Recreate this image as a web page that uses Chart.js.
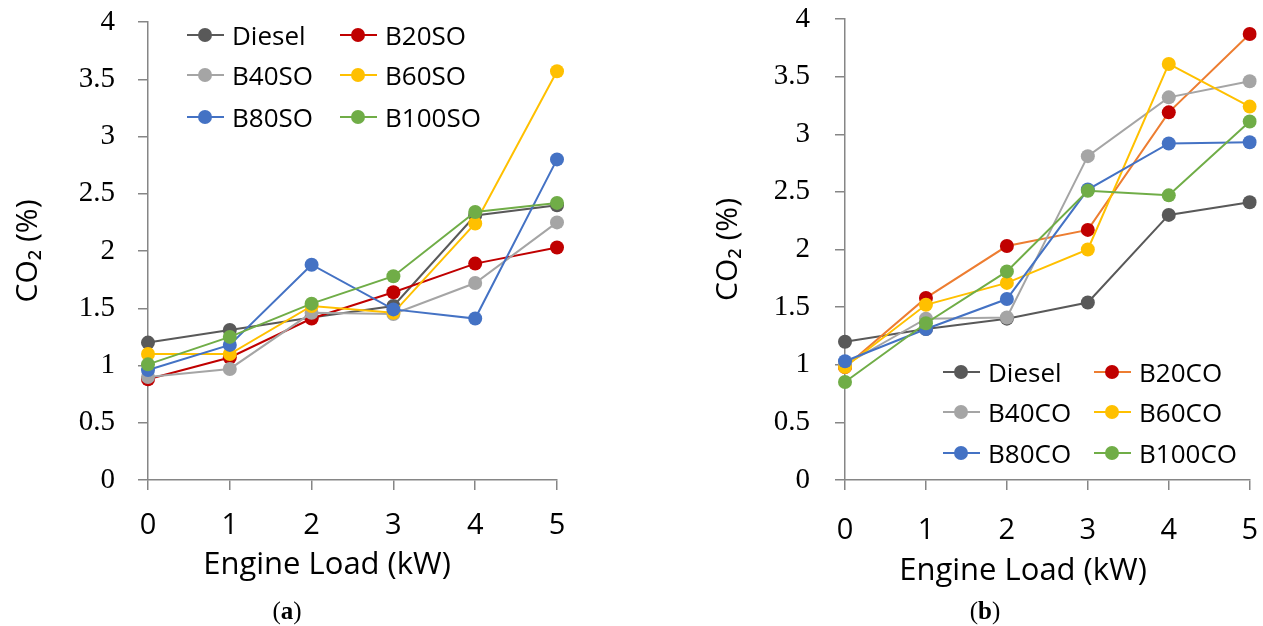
<!DOCTYPE html>
<html>
<head>
<meta charset="utf-8">
<script src="https://cdn.jsdelivr.net/npm/chart.js@4.4.1/dist/chart.umd.min.js"></script>
<style>
  body { margin: 0; background: #fff; width: 1263px; height: 626px; overflow: hidden; position: relative; font-family: 'Open Sans', sans-serif; }
  canvas { position: absolute; top: 0; }
  .xtitle { position: absolute; transform: translate(-50%, -50%); white-space: nowrap; font-size: 31px; line-height: 1; color: #000; }
  .cap { position: absolute; transform: translate(-50%, -50%); font-family: 'Liberation Serif', serif; font-size: 25px; line-height: 1; color: #000; }
  .cap b { font-weight: bold; }
  .leg { position: absolute; display: flex; align-items: center; height: 30px; font-size: 26px; color: #000; white-space: nowrap; }
  .sym { position: relative; display: inline-block; width: 37px; height: 14px; margin-right: 8px; }
  .sym i { position: absolute; left: 0; right: 0; top: 6px; height: 2px; }
  .sym b { position: absolute; left: 11px; top: 0; width: 14px; height: 14px; border-radius: 50%; }
</style>
</head>
<body>
<canvas id="chartA" width="620" height="626" style="left:0"></canvas>
<canvas id="chartB" width="584" height="626" style="left:697px"></canvas>
<div class="xtitle" style="left:327px; top:562px">Engine Load (kW)</div>
<div class="xtitle" style="left:1023px; top:568px">Engine Load (kW)</div>
<div class="cap" style="left:287px; top:610px">(<b>a</b>)</div>
<div class="cap" style="left:985px; top:610px">(<b>b</b>)</div>
<div id="legendA"></div>
<div id="legendB"></div>
<script>
// engine load (kW) on the x axis
const LOADS = ['0', '1', '2', '3', '4', '5'];
const Y_TICKS = [0, 0.5, 1, 1.5, 2, 2.5, 3, 3.5, 4];

// (a) soybean oil blends, CO2 %
const NAMES_A = ['Diesel', 'B20SO', 'B40SO', 'B60SO', 'B80SO', 'B100SO'];
const dieselA = [1.2, 1.31, 1.42, 1.52, 2.31, 2.4];
const b20so = [0.88, 1.07, 1.41, 1.64, 1.89, 2.03];
const b40so = [0.9, 0.97, 1.46, 1.45, 1.72, 2.25];
const b60so = [1.1, 1.1, 1.52, 1.46, 2.24, 3.57];
const b80so = [0.96, 1.18, 1.88, 1.49, 1.41, 2.8];
const b100so = [1.01, 1.25, 1.54, 1.78, 2.34, 2.42];

// (b) coconut oil blends, CO2 %
const NAMES_B = ['Diesel', 'B20CO', 'B40CO', 'B60CO', 'B80CO', 'B100CO'];
const dieselB = [1.2, 1.31, 1.4, 1.54, 2.3, 2.41];
const b20co = [0.98, 1.58, 2.03, 2.17, 3.19, 3.87];
const b40co = [1.0, 1.4, 1.41, 2.81, 3.32, 3.46];
const b60co = [0.98, 1.52, 1.71, 2.0, 3.61, 3.24];
const b80co = [1.03, 1.31, 1.57, 2.52, 2.92, 2.93];
const b100co = [0.85, 1.36, 1.81, 2.51, 2.47, 3.11];

const MARKERS = ['#595959', '#C00000', '#A5A5A5', '#FFC000', '#4472C4', '#70AD47'];
const LINES_A = ['#595959', '#C00000', '#A5A5A5', '#FFC000', '#4472C4', '#70AD47'];
const LINES_B = ['#595959', '#ED7D31', '#A5A5A5', '#FFC000', '#4472C4', '#70AD47'];

const AXIS = '#868686';

function makeDatasets(names, series, lines) {
  return series.map((data, i) => ({
    label: names[i],
    data: data,
    borderColor: lines[i],
    backgroundColor: MARKERS[i],
    pointBackgroundColor: MARKERS[i],
    pointBorderColor: MARKERS[i],
    pointRadius: 7,
    pointBorderWidth: 0,
    borderWidth: 2,
    tension: 0,
    order: series.length - i
  }));
}

function makeChart(id, names, series, lines, o) {
  return new Chart(document.getElementById(id), {
    type: 'line',
    data: { labels: LOADS, datasets: makeDatasets(names, series, lines) },
    options: {
      responsive: false,
      animation: false,
      devicePixelRatio: 1,
      events: [],
      layout: { padding: { top: o.top, right: o.right, bottom: 0, left: 0 } },
      plugins: { legend: { display: false }, tooltip: { enabled: false } },
      scales: {
        x: {
          offset: false,
          grid: { drawOnChartArea: false, drawTicks: true, tickLength: 10, color: AXIS, lineWidth: 1.5 },
          border: { display: true, color: AXIS, width: 1.5 },
          ticks: { color: '#000', padding: o.xPad, maxRotation: 0, font: { family: 'Open Sans', size: 29 } },
          afterFit: s => { s.height = 146; }
        },
        y: {
          min: 0,
          max: 4,
          afterBuildTicks: s => { s.ticks = Y_TICKS.map(v => ({ value: v })); },
          grid: { drawOnChartArea: false, drawTicks: true, tickLength: 10, color: AXIS, lineWidth: 1.5 },
          border: { display: true, color: AXIS, width: 1.5 },
          ticks: {
            color: '#000',
            padding: o.yPad,
            font: { family: 'Liberation Serif', size: 29 },
            callback: v => String(v)
          },
          title: {
            display: true,
            text: 'CO₂ (%)',
            color: '#000',
            padding: { top: o.tPad, bottom: 0 },
            font: { family: 'Open Sans', size: 30 }
          },
          afterFit: s => {
            s.width = 148;
            s.paddingTop = 0;
            s.paddingBottom = 0;
          }
        }
      }
    }
  });
}

makeChart('chartA', NAMES_A, [dieselA, b20so, b40so, b60so, b80so, b100so], LINES_A,
  { top: 22, right: 63, xPad: 18, yPad: 23, tPad: 10 });
makeChart('chartB', NAMES_B, [dieselB, b20co, b40co, b60co, b80co, b100co], LINES_B,
  { top: 19, right: 0, xPad: 23, yPad: 25, tPad: 13 });

// legends, two columns by three rows
function makeLegend(id, names, lines, cols, rows) {
  const box = document.getElementById(id);
  names.forEach((name, i) => {
    const d = document.createElement('div');
    d.className = 'leg';
    d.style.left = cols[i % 2] + 'px';
    d.style.top = (rows[Math.floor(i / 2)] - 15) + 'px';
    d.innerHTML = `<span class="sym"><i style="background:${lines[i]}"></i><b style="background:${MARKERS[i]}"></b></span>${name}`;
    box.appendChild(d);
  });
}

makeLegend('legendA', NAMES_A, LINES_A, [187, 340], [35, 75, 117]);
makeLegend('legendB', NAMES_B, LINES_B, [943, 1094], [372, 412, 453]);
</script>
</body>
</html>
